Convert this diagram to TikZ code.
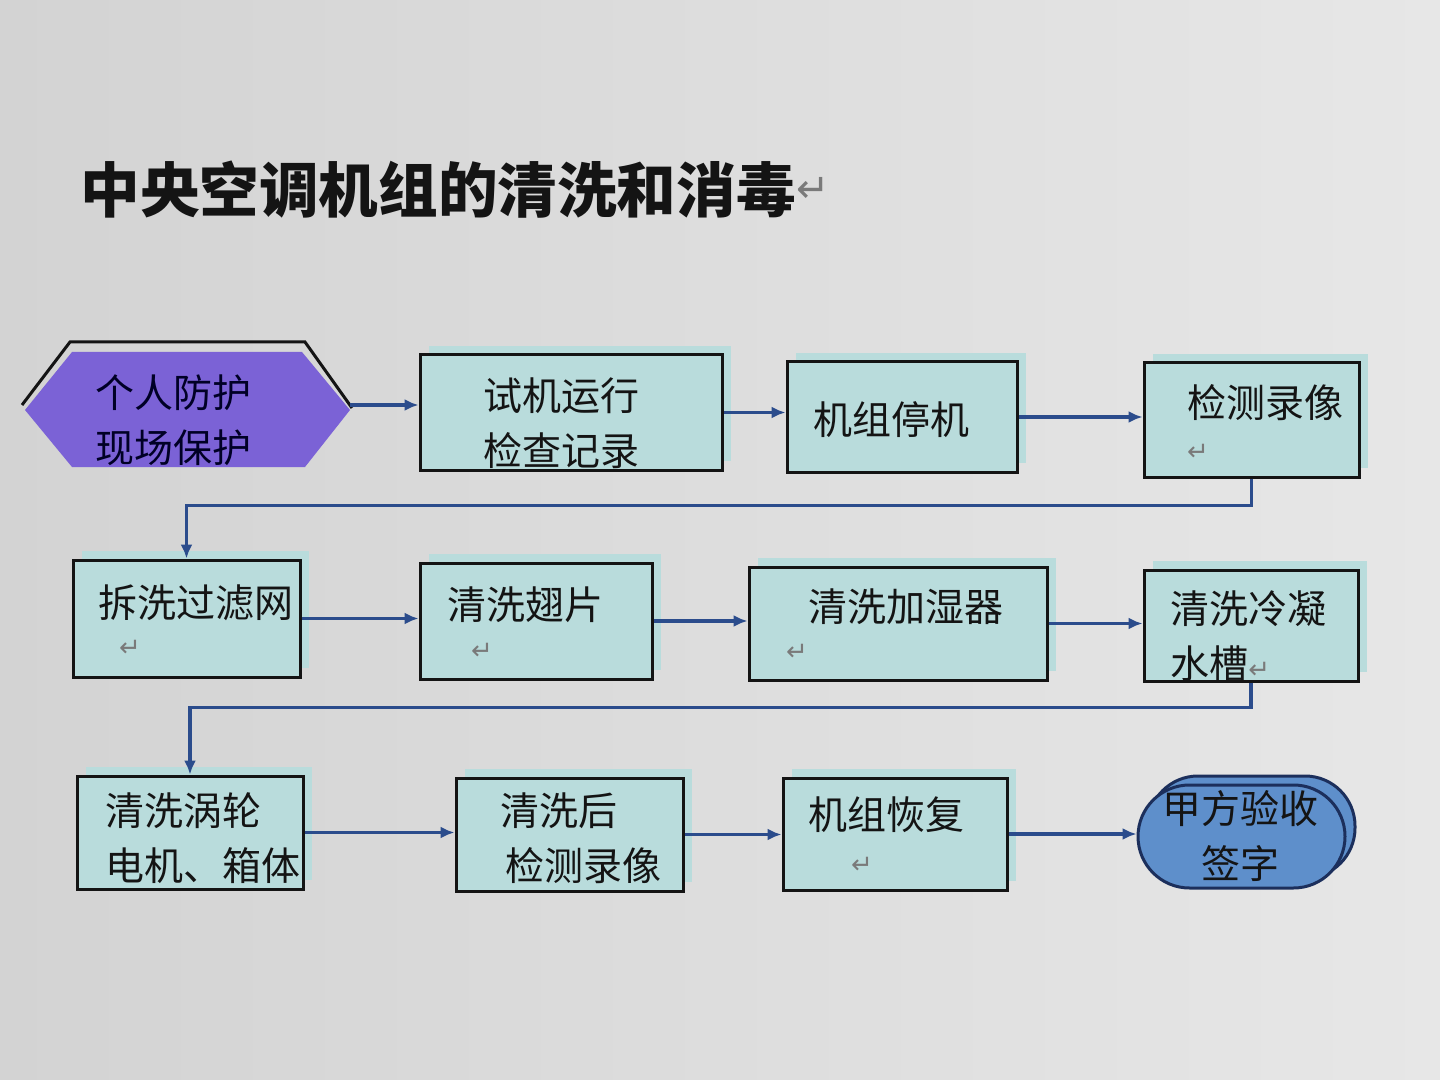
\documentclass[tikz,border=0pt]{standalone}
\usepackage{fontspec}
\newfontfamily\cjk{Noto Sans CJK SC}
\newfontfamily\symf{DejaVu Sans}
\usetikzlibrary{arrows.meta,shapes.misc,calc}
\definecolor{bgl}{HTML}{D3D3D3}
\definecolor{bgr}{HTML}{E7E7E7}
\definecolor{boxfill}{HTML}{B9DCDC}
\definecolor{hexfill}{HTML}{7B62D6}
\definecolor{endfill}{HTML}{5E8FCB}
\definecolor{enddraw}{HTML}{1C2F5C}
\definecolor{conn}{HTML}{2B4C8C}
\definecolor{ink}{HTML}{141414}
\definecolor{pmark}{HTML}{7A7A7A}
\tikzset{
  stepbox/.style={draw=ink, line width=1.5pt, fill=boxfill, inner sep=0pt},
  endbox/.style={shape=rounded rectangle, draw=enddraw, line width=1.5pt, fill=endfill, inner sep=0pt},
  txt/.style={inner sep=0pt, anchor=west, text=ink, font=\cjk\fontsize{19.5pt}{27.5pt}\selectfont, align=left},
  ctxt/.style={inner sep=0pt, text=ink, font=\cjk\fontsize{19.5pt}{27.5pt}\selectfont, align=center},
  pm/.style={inner sep=0pt, text=pmark, font=\symf\fontsize{13pt}{15pt}\selectfont},
  flow/.style={draw=conn, line width=1.8pt, -{Latex[length=7pt,width=6pt]}},
}
\newcommand\mkbox[5]{%
  \fill[boxfill] ({#2+9},{#3-9}) rectangle ({#4+9},{#5-9});
  \node[stepbox, minimum width={(#4-#2)*0.5pt}, minimum height={(#5-#3)*0.5pt}] (#1) at ({(#2+#4)/2},{(#3+#5)/2}) {};}
\begin{document}
\begin{tikzpicture}[x=0.5pt,y=-0.5pt]
\useasboundingbox (0,0) rectangle (1440,1080);
\shade[left color=bgl, right color=bgr] (0,0) rectangle (1440,1080);

% title
\node[inner sep=0pt, anchor=west, text=ink, font=\cjk\bfseries\fontsize{29.8pt}{32pt}\selectfont] (title) at (80,190) {中央空调机组的清洗和消毒};
\node[pm, anchor=west, font=\symf\fontsize{20pt}{22pt}\selectfont] (titlepm) at (title.east) {↵};

% hexagon start
\node[inner sep=0pt, minimum width=162.5pt, minimum height=62.5pt] (hex) at (187,405) {};
\fill[hexfill] (25,410) -- (72,352) -- (302,352) -- (350,410) -- (305,467) -- (72,467) -- cycle;
\draw[ink, line width=1.5pt] (22,405) -- (70,342) -- (305,342) -- (352,408);
\node[txt, text=black!85!blue] (t1) at (95,420) {个人防护\\现场保护};

% row 1
\mkbox{b2}{420}{355}{722}{470}
\mkbox{b3}{787}{362}{1017}{472}
\mkbox{b4}{1144}{363}{1359}{477}
\node[txt] (t2) at (483,423) {试机运行\\检查记录};
\node[txt] (t3) at (813,420) {机组停机};
\node[txt] (t4) at (1187,403) {检测录像};
\node[pm] (p4) at (1198,452) {↵};

% row 2
\mkbox{b5}{73}{560}{300}{677}
\mkbox{b6}{420}{563}{652}{679}
\mkbox{b7}{749}{567}{1047}{680}
\mkbox{b8}{1144}{570}{1358}{681}
\node[txt] (t5) at (98,603) {拆洗过滤网};
\node[pm] (p5) at (130,648) {↵};
\node[txt] (t6) at (447,605) {清洗翅片};
\node[pm] (p6) at (482,651) {↵};
\node[txt] (t7) at (808,607) {清洗加湿器};
\node[pm] (p7) at (797,652) {↵};
\node[txt] (t8) at (1170,636) {清洗冷凝\\水槽{\color{pmark}\symf\fontsize{13pt}{15pt}\selectfont ↵}};

% row 3
\mkbox{b9}{77}{776}{303}{889}
\mkbox{b10}{456}{778}{683}{891}
\mkbox{b11}{783}{778}{1007}{890}
\node[txt] (t9) at (105,838) {清洗涡轮\\电机、箱体};
\node[txt] (t10) at (500,838) {清洗后\\\hspace*{2.5pt}检测录像};
\node[txt] (t11) at (808,815) {机组恢复};
\node[pm] (p11) at (862,865) {↵};

% end terminal
\fill[endfill, draw=enddraw, line width=1.5pt, rounded corners=25pt] (1148,776) rectangle (1355,878);
\node[endbox, minimum width=103.5pt, minimum height=51.5pt] (b12) at (1241.5,836.5) {};
\node[ctxt] (t12) at (1240,836) {甲方验收\\签字};

% connectors
\draw[flow] (hex.east) -- (hex.east -| b2.west);
\draw[flow] (b2.east) -- (b2.east -| b3.west);
\draw[flow] (b3.east) -- (b3.east -| b4.west);
\draw[flow] (b4.south) -- ++(0,27) -| (b5.north);
\draw[flow] (b5.east) -- (b5.east -| b6.west);
\draw[flow] (b6.east) -- (b6.east -| b7.west);
\draw[flow] (b7.east) -- (b7.east -| b8.west);
\draw[flow] (b8.south) -- ++(0,25) -| (b9.north);
\draw[flow] (b9.east) -- (b9.east -| b10.west);
\draw[flow] (b10.east) -- (b10.east -| b11.west);
\draw[flow] (b11.east) -- (b11.east -| b12.west);
\end{tikzpicture}
\end{document}
